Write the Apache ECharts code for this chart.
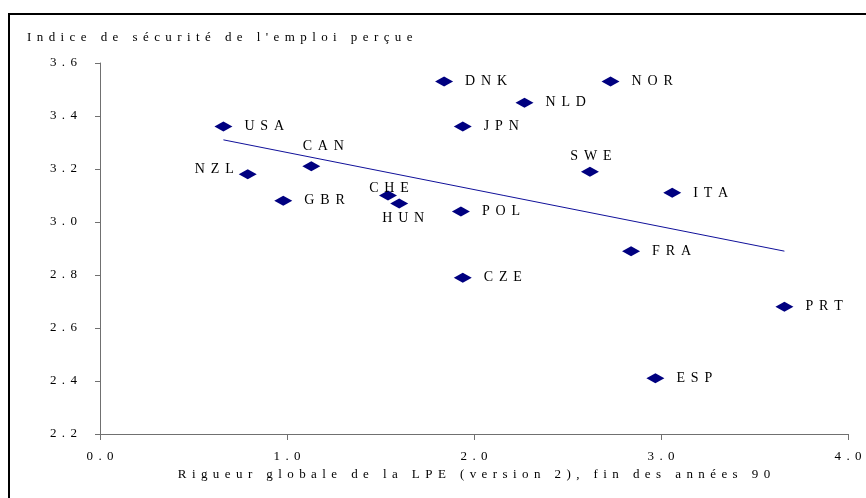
<!DOCTYPE html>
<html>
<head>
<meta charset="utf-8">
<script src="https://cdn.jsdelivr.net/npm/echarts@6/dist/echarts.min.js"></script>
<style>
  html, body { margin: 0; padding: 0; background: #fff; }
  #chart { width: 866px; height: 498px; }
</style>
</head>
<body>
<div id="chart"></div>
<script>
// values
const countries = ['USA', 'NZL', 'CAN', 'GBR', 'CHE', 'HUN', 'DNK', 'NOR', 'NLD', 'JPN', 'SWE', 'ITA', 'POL', 'FRA', 'CZE', 'PRT', 'ESP']
const rigueurLPE = [0.66, 0.79, 1.13, 0.98, 1.54, 1.60, 1.84, 2.73, 2.27, 1.94, 2.62, 3.06, 1.93, 2.84, 1.94, 3.66, 2.97]
const securiteEmploi = [3.36, 3.18, 3.21, 3.08, 3.10, 3.07, 3.53, 3.53, 3.45, 3.36, 3.19, 3.11, 3.04, 2.89, 2.79, 2.68, 2.41]
// linear trend, end points
const trendX = [0.66, 3.66]
const trendY = [3.31, 2.89]

const yTitle = "Indice de sécurité de l'emploi perçue"
const xTitle = 'Rigueur globale de la LPE (version 2), fin des années 90'

const FONT = "'Liberation Serif', 'Times New Roman', serif"
const NAVY = '#000080'

// the original spreads its letters out
const spread = (s, gap = '\u2004\u200a') => String(s).split('').join(gap)

// labels that are not on the right of their point
const labelPlacement = {
  NZL: { position: 'left', distance: 5, offset: [0, -5] },
  CAN: { position: 'top', distance: 8, offset: [12, 0] },
  SWE: { position: 'top', distance: 3, offset: [1, 0] },
  CHE: { position: 'inside', offset: [1, -7] },
  HUN: { position: 'bottom', distance: 3, offset: [4, 0] },
}

const chart = echarts.init(document.getElementById('chart'))

function drawChart() {
  const points = countries.map((c, i) => ({
    value: [rigueurLPE[i], securiteEmploi[i], c],
    label: labelPlacement[c] || { position: 'right', distance: 12 },
  }))
  const trend = trendX.map((x, i) => [x, trendY[i]])

  const axisText = { fontFamily: FONT, fontSize: 13, color: '#000' }
  const axisLine = { show: true, lineStyle: { color: '#707070', width: 1 } }

  chart.setOption({
    animation: false,
    backgroundColor: '#fff',
    title: {
      text: spread(yTitle),
      left: 27,
      top: 31,
      padding: 0,
      textStyle: { ...axisText, fontWeight: 'normal' },
    },
    grid: { left: 100, right: 18, top: 63, bottom: 64 },
    xAxis: {
      type: 'value',
      min: 0,
      max: 4,
      interval: 1,
      name: spread(xTitle),
      nameLocation: 'middle',
      nameGap: 31,
      nameTextStyle: axisText,
      axisLine,
      axisTick: { show: true, inside: false, length: 6, lineStyle: { color: '#707070' } },
      axisLabel: { ...axisText, margin: 16, formatter: v => spread(v.toFixed(1)) },
      splitLine: { show: false },
    },
    yAxis: {
      type: 'value',
      min: 2.2,
      max: 3.6,
      interval: 0.2,
      axisLine,
      axisTick: { show: true, inside: false, length: 5, lineStyle: { color: '#707070' } },
      axisLabel: { ...axisText, margin: 23, formatter: v => spread(v.toFixed(1)) },
      splitLine: { show: false },
    },
    graphic: [
      {
        // frame of the original figure
        type: 'rect',
        shape: { x: 9, y: 14, width: 900, height: 600 },
        style: { fill: 'none', stroke: '#000', lineWidth: 2 },
        silent: true,
      },
    ],
    series: [
      {
        type: 'line',
        data: trend,
        symbol: 'none',
        lineStyle: { color: '#10109a', width: 1 },
        z: 1,
      },
      {
        type: 'scatter',
        data: points,
        symbol: 'diamond',
        symbolSize: [18, 10],
        itemStyle: { color: NAVY, opacity: 1 },
        label: {
          show: true,
          ...axisText,
          fontSize: 14,
          formatter: p => spread(p.value[2]),
        },
        z: 2,
      },
    ],
  })
}

drawChart()
</script>
</body>
</html>
